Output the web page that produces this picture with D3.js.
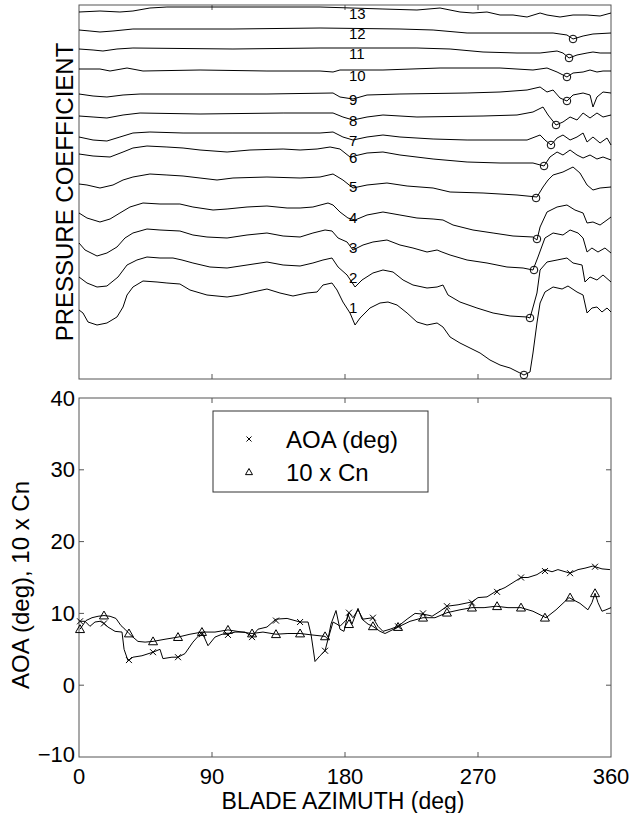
<!DOCTYPE html>
<html><head><meta charset="utf-8">
<script src="https://cdn.jsdelivr.net/npm/d3@7"></script>
<style>body{margin:0;background:#fff} text{font-family:"Liberation Sans",Arial,Helvetica,sans-serif;fill:#000}</style>
</head><body><svg id="c" width="631" height="813"></svg>
<script>
// ---------- data ----------
const azTicks = [0, 90, 180, 270, 360];
const aoaTicks = [-10, 0, 10, 20, 30, 40];
const traceNames = ["1","2","3","4","5","6","7","8","9","10","11","12","13"];

// pressure-coefficient traces, stacked (azimuth deg, stacked value)
const cp1 = [[0,7.0],[2.7,6.7],[6.1,5.8],[12.2,5.5],[18.9,5.7],[25.7,6.3],[29.8,7.3],[32.5,8.5],[36.5,9.3],[43.3,9.9],[52.8,9.8],[59.5,9.7],[68.3,9.6],[75.1,9.0],[86.6,8.5],[100.2,8.3],[108.9,8.5],[117.7,8.8],[127.2,9.1],[136,8.7],[144.8,8.4],[154.3,8.7],[161.1,8.8],[165.1,9.5],[171.2,9.7],[174.6,9.0],[178.6,7.8],[183.4,6.7],[186.8,5.5],[190.2,6.2],[196.9,7.2],[203.7,7.7],[209.1,7.8],[215.2,7.5],[222,6.7],[228.7,5.8],[235.5,5.5],[242.3,5.7],[246.3,5.3],[251.1,4.3],[257.8,3.7],[264.6,3.2],[271.4,2.7],[278.1,2.0],[284.9,1.5],[291.7,1.2],[298.4,0.7],[301.1,0.5],[305.2,0.8],[307.2,2.7],[309.9,5.7],[312,7.7],[315.3,8.8],[320.8,9.3],[326.9,9.1],[330.9,9.4],[337,8.8],[341.1,8.5],[343.8,6.7],[347.1,7.2],[350.5,7.3],[353.9,6.8],[357.3,7.2],[360,6.8]];
const cp2 = [[0,10.3],[5.4,9.7],[12.2,9.3],[18.9,9.4],[26.4,10.3],[32.5,11.5],[39.2,12.0],[46,12.3],[54.8,12.2],[63.6,12.2],[69.7,12.0],[77.1,11.7],[88.6,11.3],[100.2,11.2],[113.7,11.5],[127.2,11.8],[138.1,11.5],[149.6,11.4],[158.3,11.7],[165.1,12.0],[171.2,12.2],[175.3,11.3],[181.4,10.5],[186.8,9.3],[191.5,10.0],[198.9,10.7],[205.7,11.0],[212.5,10.8],[219.3,10.0],[226,9.5],[235.5,9.2],[242.3,9.3],[246.3,9.5],[249.7,8.5],[257.8,7.8],[269.3,7.2],[280.2,6.7],[291.7,6.4],[303.2,6.3],[305.2,6.2],[309.9,8.7],[312,11.0],[316.7,11.8],[323.5,12.0],[330.2,12.2],[334.3,11.7],[340.4,11.5],[342.4,9.8],[345.8,10.3],[350.5,10.0],[354.6,10.5],[360,9.8]];
const cp3 = [[0,13.7],[4.1,13.0],[12.2,12.4],[18.9,12.7],[25.7,13.3],[31.1,14.2],[36.5,14.7],[46,15.1],[54.8,15.0],[68.3,14.9],[77.1,14.5],[86.6,14.3],[100.2,14.2],[113.7,14.5],[127.2,14.7],[138.1,14.4],[149.6,14.3],[158.3,14.7],[166.5,15.0],[171.2,14.9],[175.3,14.2],[181.4,13.8],[185.4,13.0],[192.2,13.5],[198.9,13.8],[208.4,14.0],[217.2,13.5],[226,13.2],[235.5,12.8],[242.3,13.0],[245.6,12.8],[251.1,12.5],[262.6,12.0],[276.1,11.7],[289.6,11.3],[300.5,11.2],[307.2,11.0],[310.6,12.3],[315.3,14.2],[320.8,14.7],[327.5,14.5],[332.3,15.0],[337.7,14.7],[341.1,14.2],[343.8,12.8],[347.1,13.2],[351.2,12.8],[355.9,13.2],[360,12.7]];
const cp4 = [[0,16.7],[5.4,16.2],[14.2,15.8],[21,16.1],[27.7,16.7],[34.5,17.3],[43.3,17.7],[54.8,17.6],[68.3,17.6],[77.1,17.3],[90.7,17.0],[100.2,17.1],[113.7,17.3],[127.2,17.4],[140.8,17.2],[149.6,17.2],[158.3,17.3],[168.5,17.7],[171.9,17.5],[176.6,16.8],[182,16.2],[186.8,16.0],[194.9,16.5],[205.7,16.8],[217.2,16.5],[228.7,16.2],[239.6,16.1],[246.3,16.0],[253.1,15.5],[266.6,15.0],[280.2,14.7],[293.7,14.4],[307.2,14.3],[309.9,14.0],[312,15.3],[316.7,16.8],[323.5,17.3],[330.2,17.5],[335.6,17.0],[341.1,16.7],[343.8,15.7],[347.8,15.8],[352.6,15.5],[357.3,16.0],[360,16.3]];
const cp5 = [[0,19.6],[5.4,19.5],[14.2,19.2],[23,19.5],[29.8,20.0],[36.5,20.3],[48,20.6],[59.5,20.5],[70.4,20.4],[81.9,20.2],[93.4,20.0],[104.2,20.2],[127.2,20.3],[149.6,20.2],[163.1,20.3],[171.9,20.6],[178.6,20.0],[185.4,19.2],[194.9,19.5],[208.4,19.7],[222,19.4],[239.6,19.2],[251.1,18.8],[273.4,18.7],[296.4,18.5],[309.9,18.3],[314,19.3],[317.4,20.0],[320.8,20.5],[327.5,20.8],[334.3,21.3],[339,20.7],[343.8,19.5],[347.8,19.0],[352.6,19.2],[360,19.3]];
const cp6 = [[0,22.6],[9.5,22.4],[21,22.3],[29.8,22.8],[36.5,23.2],[46,23.4],[59.5,23.3],[70.4,23.2],[81.9,23.0],[100.2,22.8],[115.7,23.0],[138.1,23.1],[149.6,23.0],[161.1,23.1],[169.9,23.3],[176.6,23.1],[183.4,22.3],[194.9,22.7],[205.7,22.8],[217.2,22.5],[239.6,22.1],[262.6,21.8],[284.9,21.7],[307.2,21.7],[314.7,21.4],[318.7,22.3],[323.5,22.8],[327.5,22.5],[332.3,23.0],[337,22.5],[341.1,22.2],[345.8,22.5],[350.5,22.1],[354.6,22.3],[360,22.0]];
const cp7 = [[0,24.3],[9.5,24.0],[18.9,23.9],[27.7,24.3],[36.5,24.7],[48,24.8],[70.4,24.7],[104.2,24.7],[127.2,24.7],[163.1,24.7],[171.9,24.8],[178.6,24.3],[185.4,24.0],[194.9,24.3],[205.7,24.5],[217.2,24.3],[239.6,24.1],[262.6,24.0],[303.2,24.0],[312,24.5],[315.3,24.0],[319.4,23.5],[323.5,24.2],[327.5,24.5],[332.3,24.0],[337,24.3],[341.1,24.7],[343.8,23.8],[347.8,24.3],[352.6,23.7],[357.3,24.2],[360,23.5]];
const cp8 = [[0,26.4],[9.5,26.3],[18.9,26.2],[29.8,26.5],[41.3,26.7],[81.9,26.6],[138.1,26.7],[171.9,26.7],[178.6,26.3],[185.4,26.0],[194.9,26.3],[205.7,26.5],[228.7,26.3],[273.4,26.4],[296.4,26.5],[307.2,26.8],[314,27.3],[317.4,26.5],[322.8,25.5],[327.5,25.8],[332.3,26.3],[337,26.0],[341.1,26.7],[345.8,26.2],[350.5,26.7],[354.6,26.3],[360,26.5]];
const cp9 = [[0,28.6],[9.5,28.4],[18.9,28.3],[29.8,28.5],[41.3,28.6],[127.2,28.6],[171.9,28.7],[176.6,28.3],[185.4,28.1],[194.9,28.5],[217.2,28.6],[262.6,28.7],[284.9,28.8],[303.2,29.0],[312,29.3],[316.7,28.8],[320.8,29.0],[325.5,28.2],[330.2,27.9],[334.3,28.5],[341.1,28.7],[345.8,28.5],[347.8,27.3],[350.5,28.3],[354.6,28.8],[360,28.7]];
const cp10 = [[0,31.1],[14.2,31.1],[21,30.9],[32.5,31.2],[43.3,30.9],[81.9,31.0],[127.2,30.9],[163.1,30.9],[171.9,30.8],[176.6,31.0],[205.7,31.0],[244.3,31.2],[284.9,31.2],[307.2,31.0],[316.7,31.2],[323.5,30.8],[330.2,30.3],[334.3,30.7],[341.1,30.8],[345.8,31.0],[350.5,30.8],[354.6,30.9],[360,30.9]];
const cp11 = [[0,33.1],[9.5,33.0],[16.2,32.9],[25.7,33.1],[36.5,33.2],[104.2,33.1],[163.1,33.2],[228.7,33.2],[251.1,33.1],[273.4,32.8],[296.4,32.7],[312,32.7],[323.5,32.9],[327.5,32.7],[331.6,32.2],[337,32.5],[343.8,32.7],[347.8,32.8],[352.6,32.7],[360,32.7]];
const cp12 = [[0,35.0],[7.4,34.9],[14.2,34.8],[23,34.9],[36.5,35.1],[104.2,35.1],[163.1,35.2],[217.2,35.1],[239.6,35.0],[262.6,34.7],[307.2,34.7],[320.8,34.7],[330.2,34.5],[334.3,34.1],[341.1,34.4],[347.8,34.6],[360,34.7]];
const cp13 = [[0,36.8],[14.2,36.9],[27.7,36.8],[36.5,36.9],[48,37.2],[59.5,37.3],[163.1,37.3],[205.7,37.1],[228.7,37.0],[244.3,37.2],[257.8,36.8],[266.6,36.7],[276.1,36.8],[284.9,36.5],[293.7,36.5],[303.2,36.3],[312,36.7],[316.7,36.5],[325.5,36.3],[334.3,36.5],[343.8,36.5],[352.6,36.4],[360,36.7]];
const cpTraces = [cp1,cp2,cp3,cp4,cp5,cp6,cp7,cp8,cp9,cp10,cp11,cp12,cp13];
const circleAz  = [301.1,305.2,307.9,309.9,309.3,314.7,319.4,322.8,330.2,330.2,331.6,334.3];
const circleVal = [0.5,6.2,11.0,14.1,18.2,21.4,23.5,25.5,27.9,30.3,32.2,34.1];
const labelAz = 182.7;
const labelVal = [7.3,10.3,13.3,16.3,19.4,22.3,24.0,26.0,28.1,30.5,32.7,34.7,36.7];

// lower panel: AOA (deg) and 10 x Cn
const aoaLine = [[0.7,8.9],[4.1,8.9],[7.4,8.2],[10.8,8.8],[14.2,8.9],[16.9,8.6],[19.6,8.1],[24.4,7.5],[29.1,7.4],[30.5,5.0],[33.2,3.4],[36.5,3.9],[42.6,4.1],[50.1,4.6],[54.8,5.0],[56.8,3.7],[62.9,3.9],[67,3.9],[71.7,4.4],[77.1,6.0],[83.2,7.4],[87.3,5.5],[92,6.7],[96.8,7.1],[100.8,7.1],[105.6,7.4],[112.3,7.4],[117.1,6.8],[121.1,7.8],[127.2,8.1],[133.3,9.2],[140.8,9.3],[149.6,8.8],[155,8.8],[157,7.1],[159.7,3.3],[163.1,4.1],[166.5,4.8],[168.5,6.4],[171.9,8.8],[174.6,8.5],[176.6,8.2],[181.4,9.2],[182.7,10.1],[185.4,9.4],[188.8,10.5],[192.2,9.2],[198.9,9.4],[202.3,8.2],[205.7,7.5],[210.5,7.8],[215.9,8.2],[222,9.2],[227.4,10.0],[232.8,9.9],[237.5,9.7],[238.9,9.6],[244.3,10.3],[249,11.0],[256.5,11.2],[265.9,11.6],[270,12.2],[276.1,12.3],[281.5,13.0],[288.3,13.6],[293.7,14.3],[299.1,15.0],[303.8,15.0],[309.9,15.4],[315.3,16.1],[320.1,15.8],[324.1,16.1],[332.3,15.6],[337.7,16.1],[342.4,16.3],[347.8,16.6],[353.9,16.2],[359.3,16.1]];
const aoaMarks = [[0.7,8.9],[16.9,8.6],[33.8,3.5],[50.1,4.6],[67,3.9],[83.2,7.1],[100.8,7.0],[117.1,6.7],[133.3,9.0],[149.6,8.8],[166.5,4.8],[182.7,10.1],[198.9,9.4],[215.9,8.2],[232.8,10.0],[249,11.0],[265.9,11.5],[282.9,13.0],[299.1,15.0],[315.3,15.9],[332.3,15.6],[349.2,16.5]];
const cnLine = [[0.7,7.8],[4.7,9.0],[8.8,9.4],[12.9,9.6],[16.9,9.7],[21,9.6],[25,9.3],[28.4,8.3],[31.1,7.8],[33.8,7.2],[36.5,6.7],[39.9,6.1],[44.7,6.0],[50.1,6.1],[58.2,6.4],[67,6.7],[75.1,7.1],[83.2,7.4],[92,7.4],[100.8,7.7],[110.3,7.4],[117.1,7.2],[124.5,7.4],[133.3,7.1],[141.4,7.2],[149.6,7.2],[157.7,7.0],[166.5,6.8],[168.5,6.4],[170.5,8.5],[173.9,10.4],[176.6,7.8],[179.3,7.5],[182,9.9],[184.7,8.5],[188.8,10.7],[191.5,9.2],[195.6,8.5],[198.9,8.2],[203.7,7.5],[207.1,7.2],[215.9,8.1],[224,8.9],[232.8,9.4],[240.9,9.4],[249,10.1],[257.8,10.5],[265.9,10.8],[274.1,10.8],[282.2,11.0],[290.3,10.8],[299.1,10.8],[307.2,10.3],[316,9.4],[322.8,10.5],[331.6,12.2],[339,11.4],[344.4,10.5],[347.1,11.5],[349.2,12.8],[351.2,11.5],[353.9,10.3],[356.6,10.5],[360,10.8]];
const cnMarks = [[0.7,7.8],[16.9,9.7],[33.8,7.2],[50.1,6.1],[67,6.7],[83.2,7.4],[100.8,7.7],[117.1,7.2],[133.3,7.1],[149.6,7.2],[166.5,6.8],[182.7,8.5],[198.9,8.2],[215.9,8.1],[232.8,9.4],[249,10.1],[265.9,10.8],[282.9,11.0],[299.1,10.8],[315.3,9.4],[332.3,12.2],[349.2,12.8]];
const legendLabels = ["AOA (deg)", "10 x Cn"];

// ---------- drawing ----------
const svg = d3.select("#c");
const FRAME = "#555";
const x = d3.scaleLinear().domain([0, 360]).range([79, 611]);
const yTop = d3.scaleLinear().domain([0, 37.5]).range([380, 5]);
const yBot = d3.scaleLinear().domain([-10, 40]).range([757, 398]);

// ---- top panel ----
const gTop = svg.append("g");
gTop.append("rect").attr("x", 79).attr("y", 5).attr("width", 532).attr("height", 374)
  .attr("fill", "none").attr("stroke", FRAME);
[90,180,270].forEach(t => {
  gTop.append("line").attr("x1", x(t)).attr("x2", x(t)).attr("y1", 5).attr("y2", 10).attr("stroke", FRAME);
  gTop.append("line").attr("x1", x(t)).attr("x2", x(t)).attr("y1", 379).attr("y2", 374).attr("stroke", FRAME);
});
const lineTop = d3.line().x(d => x(d[0])).y(d => yTop(d[1]));
cpTraces.forEach(tr => {
  gTop.append("path").attr("d", lineTop(tr)).attr("fill", "none").attr("stroke", "#000").attr("stroke-width", 1);
});
circleAz.forEach((a, i) => {
  gTop.append("circle").attr("cx", x(a)).attr("cy", yTop(circleVal[i])).attr("r", 3.8)
    .attr("fill", "none").attr("stroke", "#000").attr("stroke-width", 1);
});
traceNames.forEach((n, i) => {
  gTop.append("text").attr("x", x(labelAz)).attr("y", yTop(labelVal[i]))
    .attr("dominant-baseline", "central").attr("font-size", 15).text(n);
});
svg.append("text").attr("transform", "translate(73,192) rotate(-90)")
  .attr("text-anchor", "middle").attr("font-size", 24).text("PRESSURE COEFFICIENT");

// ---- bottom panel ----
const gBot = svg.append("g");
gBot.append("rect").attr("x", 79).attr("y", yBot(40)).attr("width", 532).attr("height", yBot(-10) - yBot(40))
  .attr("fill", "none").attr("stroke", FRAME);
[90,180,270].forEach(t => {
  gBot.append("line").attr("x1", x(t)).attr("x2", x(t)).attr("y1", yBot(40)).attr("y2", yBot(40) + 5).attr("stroke", FRAME);
  gBot.append("line").attr("x1", x(t)).attr("x2", x(t)).attr("y1", yBot(-10)).attr("y2", yBot(-10) - 5).attr("stroke", FRAME);
});
[0,10,20,30].forEach(t => {
  gBot.append("line").attr("x1", 79).attr("x2", 84).attr("y1", yBot(t)).attr("y2", yBot(t)).attr("stroke", FRAME);
  gBot.append("line").attr("x1", 611).attr("x2", 606).attr("y1", yBot(t)).attr("y2", yBot(t)).attr("stroke", FRAME);
});
aoaTicks.forEach(t => {
  gBot.append("text").attr("x", 75).attr("y", yBot(t) - (t === -10 ? 3 : 0))
    .attr("text-anchor", "end").attr("dominant-baseline", "central").attr("font-size", 22)
    .text(t < 0 ? "\u2212" + Math.abs(t) : t);
});
azTicks.forEach(t => {
  gBot.append("text").attr("x", x(t)).attr("y", 784).attr("text-anchor", "middle")
    .attr("font-size", 22).text(t);
});
svg.append("text").attr("x", 343).attr("y", 809).attr("text-anchor", "middle")
  .attr("font-size", 23).text("BLADE AZIMUTH (deg)");
svg.append("text").attr("transform", "translate(29,585) rotate(-90)")
  .attr("text-anchor", "middle").attr("font-size", 24).text("AOA (deg), 10 x Cn");

const lineBot = d3.line().x(d => x(d[0])).y(d => yBot(d[1]));
gBot.append("path").attr("d", lineBot(cnLine)).attr("fill", "none").attr("stroke", "#000");
gBot.append("path").attr("d", lineBot(aoaLine)).attr("fill", "none").attr("stroke", "#000");
const crossPath = (cx, cy, s) => `M${cx-s},${cy-s}L${cx+s},${cy+s}M${cx-s},${cy+s}L${cx+s},${cy-s}`;
const triPath = (cx, cy, s) => `M${cx},${cy-s}L${cx+s},${cy+s*0.75}L${cx-s},${cy+s*0.75}Z`;
aoaMarks.forEach(d => gBot.append("path").attr("d", crossPath(x(d[0]), yBot(d[1]), 3))
  .attr("stroke", "#000").attr("fill", "none"));
cnMarks.forEach(d => gBot.append("path").attr("d", triPath(x(d[0]), yBot(d[1]), 4.5))
  .attr("stroke", "#000").attr("fill", "none"));

// legend
const lg = svg.append("g");
lg.append("rect").attr("x", 213).attr("y", 411).attr("width", 215).attr("height", 81)
  .attr("fill", "#fff").attr("stroke", "#333");
lg.append("path").attr("d", crossPath(249, 439, 2.5)).attr("stroke", "#000");
lg.append("path").attr("d", triPath(249, 472, 3.5)).attr("stroke", "#000").attr("fill", "none");
legendLabels.forEach((t, i) => {
  lg.append("text").attr("x", 286).attr("y", 439 + i * 33).attr("dominant-baseline", "central")
    .attr("font-size", 24).text(t);
});
</script></body></html>
